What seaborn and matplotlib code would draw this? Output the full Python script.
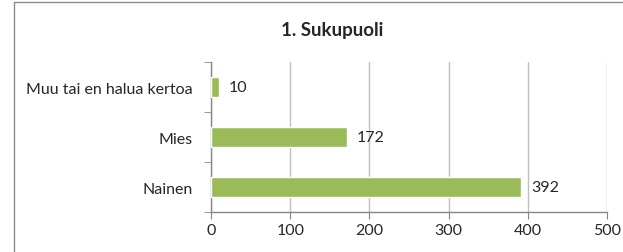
import matplotlib
matplotlib.use('Agg')
import matplotlib.pyplot as plt
from matplotlib.lines import Line2D
import seaborn as sns
import pandas as pd

categories = ['Muu tai en halua kertoa', 'Mies', 'Nainen']
counts = [10, 172, 392]
x_ticks = [0, 100, 200, 300, 400, 500]

sns.set_style('white')
plt.rcParams['font.family'] = ['Lato', 'DejaVu Sans']

df = pd.DataFrame({'category': categories, 'count': counts})

fig = plt.figure(figsize=(6.23, 2.53), dpi=100)
ax = fig.add_axes([0.3387, 0.158, 0.6356, 0.593])

sns.barplot(data=df, x='count', y='category', orient='h', color='#9BBB59',
            saturation=1, width=0.4, ax=ax, zorder=3)

ax.set_xlim(0, 500)
ax.set_ylim(2.5, -0.5)
ax.set_xticks(x_ticks)
ax.set_yticks([-0.5, 0.5, 1.5, 2.5], minor=True)
ax.set_yticks(range(len(categories)))
ax.set_yticklabels(categories)
ax.tick_params(axis='y', which='major', length=0, pad=13, labelsize=11.5)
ax.tick_params(axis='y', which='minor', length=5, color='#868686', direction='out', left=True)
ax.tick_params(axis='x', length=5, color='#868686', direction='out', bottom=True, pad=3, labelsize=11.5)
ax.grid(axis='x', color='#bfbfbf', linewidth=1, zorder=0)
ax.set_xlabel('')
ax.set_ylabel('')
for side in ['top', 'right']:
    ax.spines[side].set_visible(False)
for side in ['left', 'bottom']:
    ax.spines[side].set_color('#868686')
    ax.spines[side].set_linewidth(1)

for i, v in enumerate(counts):
    ax.text(v + 12, i, str(v), va='center', ha='left', fontsize=11.5)

fig.text(0.533, 0.88, '1. Sukupuoli', ha='center', va='center', fontsize=13.5, fontweight='bold')

# chart frame (cropped on the right and bottom)
fig.add_artist(Line2D([14 / 623, 14 / 623], [0, 1 - 3 / 253], transform=fig.transFigure, color='#8c8c8c', linewidth=1))
fig.add_artist(Line2D([14 / 623, 1], [1 - 3 / 253, 1 - 3 / 253], transform=fig.transFigure, color='#8c8c8c', linewidth=1))

fig.savefig('out.png', dpi=100)
